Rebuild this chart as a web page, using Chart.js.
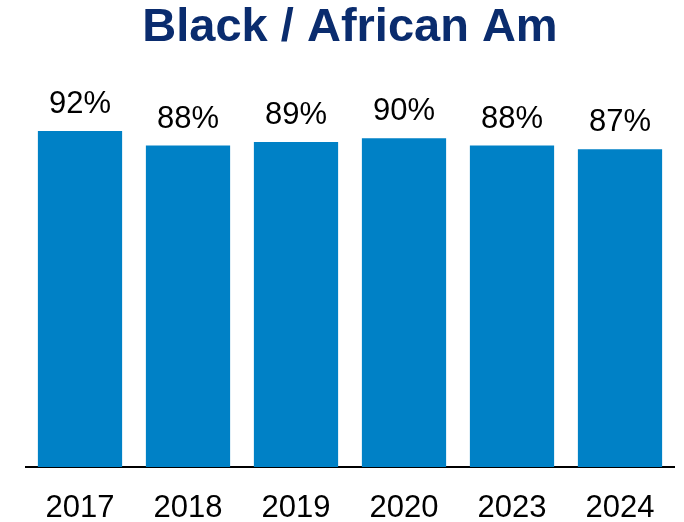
<!DOCTYPE html>
<html>
<head>
<meta charset="utf-8">
<script src="https://cdn.jsdelivr.net/npm/chart.js@4/dist/chart.umd.min.js"></script>
<style>
  html, body { margin: 0; padding: 0; background: #fff; }
  #wrap { width: 684px; height: 522px; }
</style>
</head>
<body>
<div id="wrap"><canvas id="barChart" width="684" height="522"></canvas></div>
<script>
// 数据
const years = ['2017', '2018', '2019', '2020', '2023', '2024'];
const percents = [92, 88, 89, 90, 88, 87];
const chartTitle = 'Black / African Am';

const FONT = "'Liberation Sans', Arial, Helvetica, sans-serif";

// 柱顶数值标签
const valueLabels = {
    id: 'valueLabels',
    afterDatasetsDraw(chart) {
        const ctx = chart.ctx;
        const meta = chart.getDatasetMeta(0);
        ctx.save();
        ctx.font = '31px ' + FONT;
        ctx.fillStyle = '#000';
        ctx.textAlign = 'center';
        ctx.textBaseline = 'alphabetic';
        meta.data.forEach((bar, i) => {
            ctx.fillText(Math.round(percents[i]) + '%', bar.x, bar.y - 18);
        });
        ctx.restore();
    }
};

new Chart(document.getElementById('barChart'), {
    type: 'bar',
    data: {
        labels: years,
        datasets: [{
            data: percents,
            backgroundColor: '#0081C6',
            borderWidth: 0,
            categoryPercentage: 1,
            barPercentage: 0.78
        }]
    },
    options: {
        responsive: false,
        animation: false,
        layout: { padding: { left: 26, right: 10, top: 0, bottom: 0 } },
        plugins: {
            legend: { display: false },
            tooltip: { enabled: false },
            title: {
                display: true,
                text: chartTitle,
                fullSize: false,
                color: '#0A2C6E',
                font: { family: FONT, size: 47, weight: 'bold', lineHeight: 1.2 },
                padding: { top: 0, bottom: 45.4 }
            }
        },
        scales: {
            x: {
                grid: { display: false, drawTicks: false },
                border: { display: true, color: '#000', width: 2 },
                ticks: {
                    color: '#000',
                    padding: 26,
                    font: { family: FONT, size: 31, lineHeight: 1.0 }
                },
                afterFit(scale) { scale.height = 55; }
            },
            y: {
                display: false,
                min: 0,
                max: 100
            }
        }
    },
    plugins: [valueLabels]
});
</script>
</body>
</html>
